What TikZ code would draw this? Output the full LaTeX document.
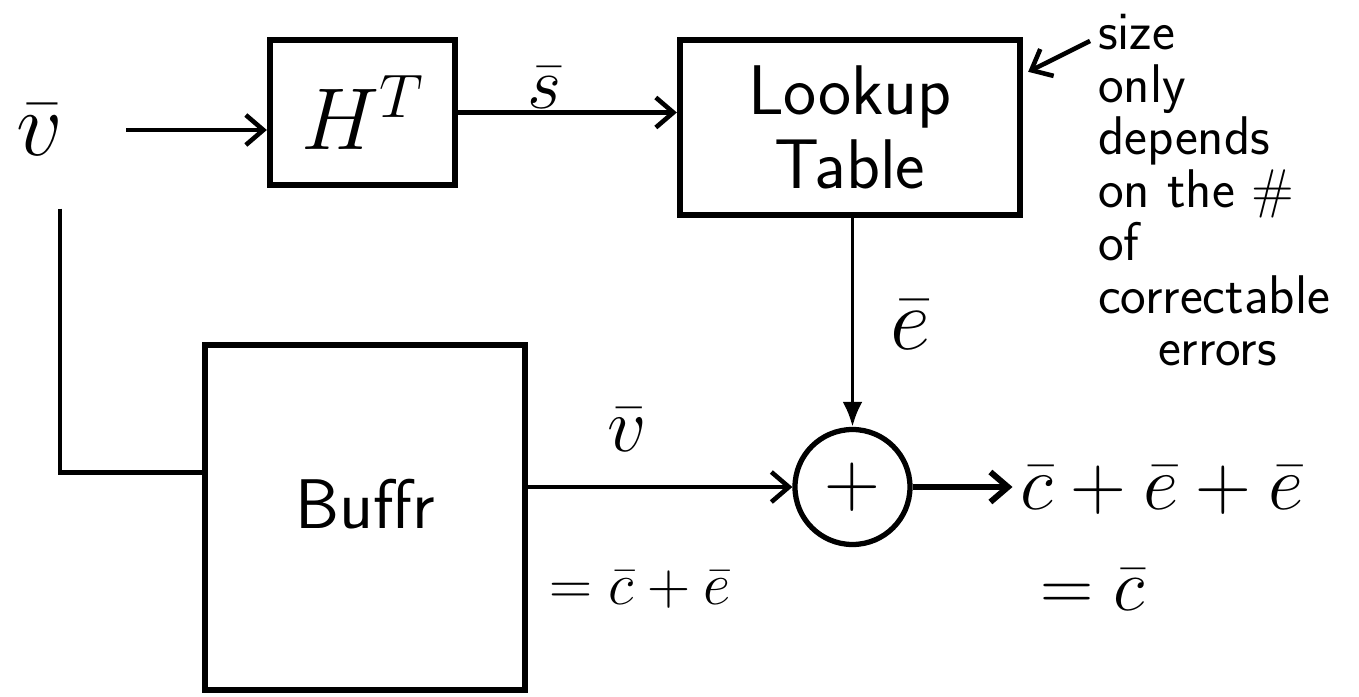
\RequirePackage{fix-cm}
\documentclass[tikz,border=0pt]{standalone}
\usepackage{amsmath}
\usepackage{tikz}
\usetikzlibrary{arrows.meta,positioning,calc}
\definecolor{ink}{HTML}{000000}

\begin{document}
\begin{tikzpicture}[line width=2.6pt,draw=ink,text=ink,>={Straight Barb[length=3.5mm,width=6mm]}]
\useasboundingbox (0,0) rectangle (27.18,-13.94);
\node[font=\fontsize{52}{52}\selectfont] (vin) at (0.8,-2.6) {$\bar{v}$};
\node[draw,line width=3.6pt,minimum width=3.7cm,minimum height=2.9cm,font=\fontsize{50}{50}\selectfont] (ht) at (7.25,-2.25) {$H^{T}$};
\node[draw,line width=3.6pt,minimum width=6.8cm,minimum height=3.5cm,align=center,font=\sffamily\fontsize{40}{42}\selectfont] (lut) at (17.0,-2.55) {Lookup\\Table};
\node[draw,line width=3.6pt,minimum width=6.4cm,minimum height=6.9cm,font=\sffamily\fontsize{40}{42}\selectfont] (buf) at (7.3,-10.35) {\raisebox{0.56cm}{Buffr}};
\node[circle,draw,line width=3pt,minimum size=2.3cm,font=\fontsize{44}{44}\selectfont] (sum) at (17.05,-9.74) {$+$};
\node[anchor=west,font=\fontsize{44}{44}\selectfont] (out) at (20.25,-9.8) {$\bar{c}+\bar{e}+\bar{e}$};
\node[font=\fontsize{42}{42}\selectfont] (eqc) at (21.85,-11.8) {$=\bar{c}$};
% signal labels
\node[font=\fontsize{42}{42}\selectfont] (sl) at (10.9,-1.75) {$\bar{s}$};
\node[font=\fontsize{50}{50}\selectfont] (el) at (18.2,-6.5) {$\bar{e}$};
\node[font=\fontsize{44}{44}\selectfont] (vl) at (12.55,-8.6) {$\bar{v}$};
\node[font=\fontsize{34}{34}\selectfont] (cel) at (12.8,-11.8) {$=\bar{c}+\bar{e}$};
\node[anchor=north west,align=left,font=\sffamily\fontsize{31}{30}\selectfont] (note) at (21.8,-0.12) {size\\only\\depends\\on the \#\\of\\correctable\\\hspace*{1.2cm}errors};
% connectors
\draw[->,shorten <=1.1cm] (vin.east) -- (vin.east -| ht.west);
\draw[->] (ht.east) -- (ht.east -| lut.west);
\draw[->,line width=2.2pt,-{Latex[length=5mm,width=4mm]}] (lut.south -| sum.north) -- (sum.north);
\draw[->] (buf.east |- sum.west) -- (sum.west);
\draw[->,line width=3.4pt] (sum.east) -- (sum.east -| out.west);
\draw ([xshift=0.4cm,yshift=-0.9cm]vin.south) |- ([yshift=0.9cm]buf.west);
\draw[->] ([shift={(0.0,-0.7)}]note.north west) -- ([shift={(0.1,-0.7)}]lut.north east);
\end{tikzpicture}
\end{document}
